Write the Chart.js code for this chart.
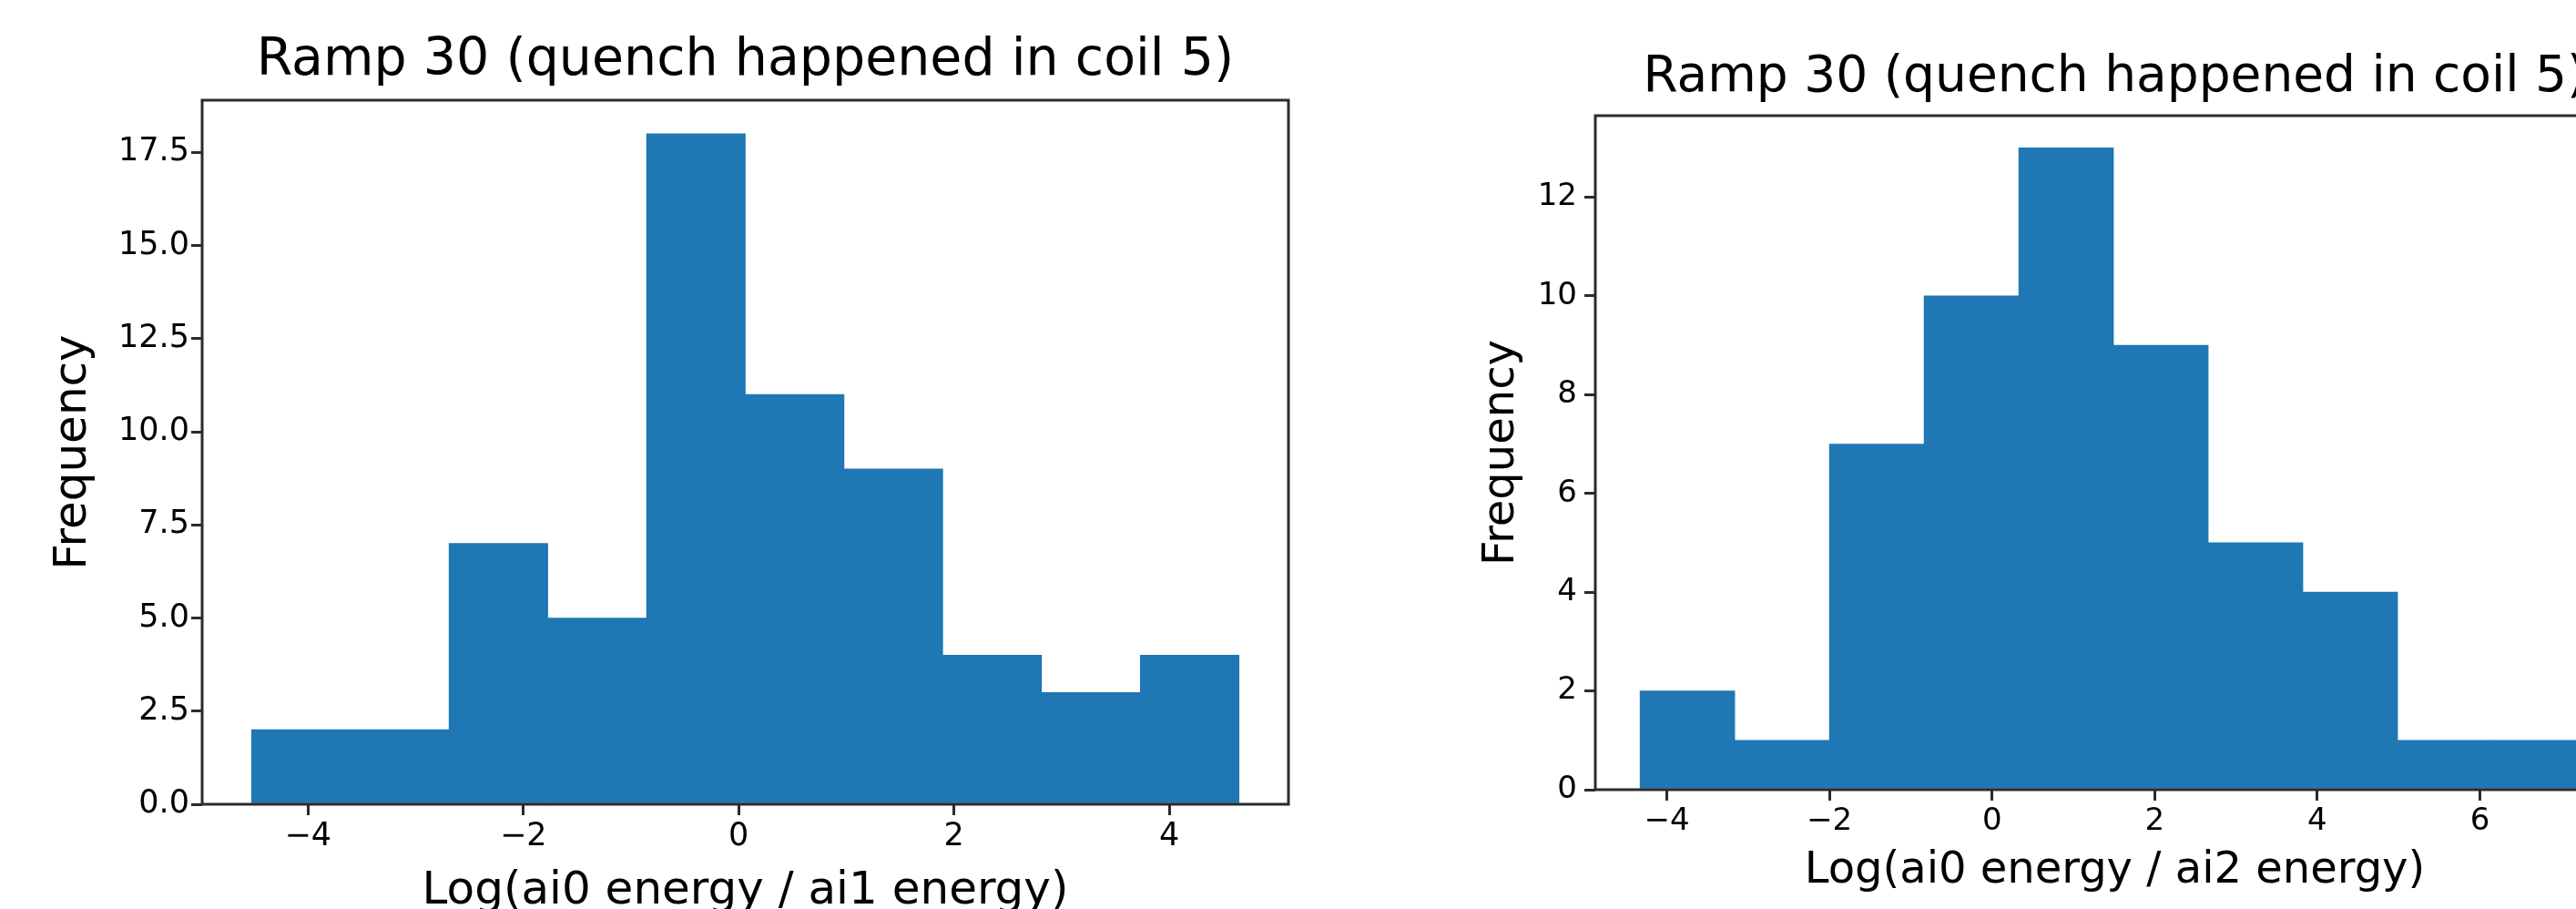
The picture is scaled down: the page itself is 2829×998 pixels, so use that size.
<!DOCTYPE html>
<html><head><meta charset="utf-8">
<script src="https://cdn.jsdelivr.net/npm/chart.js@4.4.1/dist/chart.umd.min.js"></script>
<style>
html,body{margin:0;padding:0;background:#fff;overflow:hidden;width:2829px;height:998px;}
#c1{position:absolute;left:0;top:0;}
#c2{position:absolute;left:1500px;top:0;}
</style></head>
<body>
<canvas id="c1" width="1460" height="1020" style="width:1460px;height:1020px"></canvas>
<canvas id="c2" width="1500" height="1020" style="width:1500px;height:1020px"></canvas>
<script>
// ---- data ----
const titleText = 'Ramp 30 (quench happened in coil 5)';
const yLabel = 'Frequency';
const leftXLabel = 'Log(ai0 energy / ai1 energy)';
const rightXLabel = 'Log(ai0 energy / ai2 energy)';

const leftBinEdges = [-4.524, -3.607, -2.690, -1.772, -0.855, 0.062, 0.979, 1.896, 2.814, 3.731, 4.648];
const leftCounts   = [2, 2, 7, 5, 18, 11, 9, 4, 3, 4];
const leftXTicks = [-4, -2, 0, 2, 4];
const leftXTickLabels = ['\u22124', '\u22122', '0', '2', '4'];
const leftYTicks = [0, 2.5, 5, 7.5, 10, 12.5, 15, 17.5];
const leftYTickLabels = ['0.0', '2.5', '5.0', '7.5', '10.0', '12.5', '15.0', '17.5'];
const leftXRange = [-4.983, 5.107];
const leftYRange = [0, 18.9];

const rightBinEdges = [-4.330, -3.165, -2.001, -0.836, 0.328, 1.493, 2.658, 3.822, 4.987, 6.151, 7.316];
const rightCounts   = [2, 1, 7, 10, 13, 9, 5, 4, 1, 1];
const rightXTicks = [-4, -2, 0, 2, 4, 6];
const rightXTickLabels = ['\u22124', '\u22122', '0', '2', '4', '6'];
const rightYTicks = [0, 2, 4, 6, 8, 10, 12];
const rightYTickLabels = ['0', '2', '4', '6', '8', '10', '12'];
const rightXRange = [-4.88, 7.898];
const rightYRange = [0, 13.65];

const BAR = '#1f77b4';
const INK = '#000000';
const SPINE = '#2b2b2b';
const FONT = "'DejaVu Sans', sans-serif";

const boxPlugin = {
  id: 'box',
  afterDraw(chart) {
    const {ctx, chartArea: a} = chart;
    ctx.save();
    ctx.strokeStyle = SPINE;
    ctx.lineWidth = 3;
    ctx.strokeRect(a.left, a.top, a.right - a.left, a.bottom - a.top);
    ctx.restore();
  }
};

function makeChart(id, L) {
  const pts = L.counts.map((c, i) => ({x: (L.edges[i] + L.edges[i + 1]) / 2, y: c}));
  return new Chart(document.getElementById(id), {
    type: 'bar',
    data: {datasets: [{data: pts, backgroundColor: BAR, borderWidth: 0,
      barPercentage: 1, categoryPercentage: 1, grouped: false}]},
    plugins: [boxPlugin],
    options: {
      responsive: false, animation: false, devicePixelRatio: 1,
      layout: {padding: {left: 0, top: 0, bottom: 0, right: L.padRight}},
      plugins: {
        legend: {display: false}, tooltip: {enabled: false},
        title: {display: true, text: titleText, fullSize: false, color: INK,
          font: {family: FONT, size: L.titleSize, weight: 'normal', lineHeight: 1.2},
          padding: {top: L.titlePadTop, bottom: L.titlePadBottom}}
      },
      scales: {
        x: {
          type: 'linear', position: 'bottom', min: L.xRange[0], max: L.xRange[1], offset: false,
          afterBuildTicks: s => { s.ticks = L.xTicks.map(v => ({value: v})); },
          afterFit: s => { s.height = L.xAxisHeight; },
          ticks: {autoSkip: false, maxRotation: 0, minRotation: 0, padding: L.xTickPad, color: INK,
            font: {family: FONT, size: L.tickSize}, callback: (v, i) => L.xTickLabels[i]},
          grid: {display: true, offset: false, drawOnChartArea: false, drawTicks: true, tickLength: L.tickLen,
            lineWidth: 3, tickWidth: 3, tickColor: SPINE, color: SPINE},
          border: {display: false},
          title: {display: true, text: L.xLabel, color: INK,
            font: {family: FONT, size: L.labelSize, weight: 'normal', lineHeight: 1.2},
            padding: {top: 0, bottom: L.xTitlePadBottom}}
        },
        y: {
          type: 'linear', position: 'left', min: L.yRange[0], max: L.yRange[1],
          afterBuildTicks: s => { s.ticks = L.yTicks.map(v => ({value: v})); },
          afterFit: s => { s.width = L.yAxisWidth; },
          ticks: {autoSkip: false, padding: L.yTickPad, color: INK,
            font: {family: FONT, size: L.tickSize}, callback: (v, i) => L.yTickLabels[i]},
          grid: {display: true, drawOnChartArea: false, drawTicks: true, tickLength: L.tickLen,
            lineWidth: 3, tickWidth: 3, tickColor: SPINE, color: SPINE},
          border: {display: false},
          title: {display: true, text: yLabel, color: INK,
            font: {family: FONT, size: L.labelSize, weight: 'normal', lineHeight: 1.2},
            padding: {top: L.yTitlePadTop, bottom: 0}}
        }
      }
    }
  });
}

makeChart('c1', {
  edges: leftBinEdges, counts: leftCounts,
  xTicks: leftXTicks, xTickLabels: leftXTickLabels,
  yTicks: leftYTicks, yTickLabels: leftYTickLabels,
  xRange: leftXRange, yRange: leftYRange, xLabel: leftXLabel,
  padRight: 45, yAxisWidth: 222, xAxisHeight: 137,
  titleSize: 57, titlePadTop: 33, titlePadBottom: 8.6,
  tickSize: 35, labelSize: 50, tickLen: 12, xTickPad: 3, yTickPad: 2,
  xTitlePadBottom: 11, yTitlePadTop: 51
});

makeChart('c2', {
  edges: rightBinEdges, counts: rightCounts,
  xTicks: rightXTicks, xTickLabels: rightXTickLabels,
  yTicks: rightYTicks, yTickLabels: rightYTickLabels,
  xRange: rightXRange, yRange: rightYRange, xLabel: rightXLabel,
  padRight: 107, yAxisWidth: 252, xAxisHeight: 153,
  titleSize: 55, titlePadTop: 53, titlePadBottom: 8,
  tickSize: 34, labelSize: 48, tickLen: 12, xTickPad: 3, yTickPad: 8,
  xTitlePadBottom: 35, yTitlePadTop: 121
});
</script>
</body></html>
